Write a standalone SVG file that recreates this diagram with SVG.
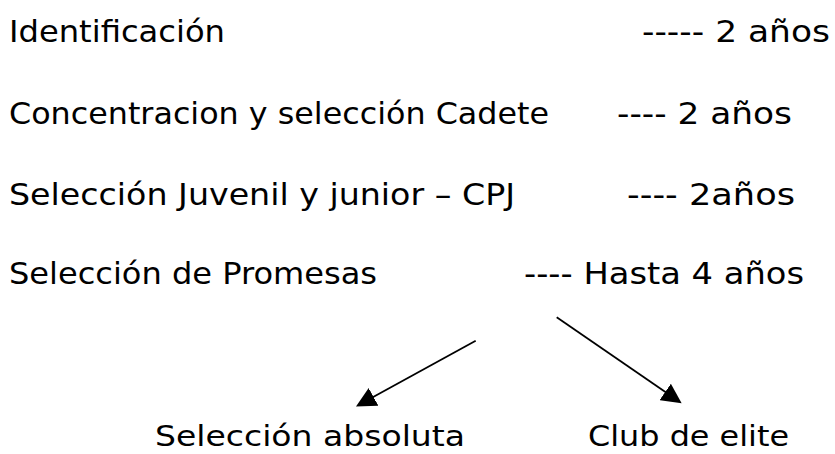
<svg xmlns="http://www.w3.org/2000/svg" width="835" height="454" viewBox="0 0 835 454">
  <style>
    text { font-family: "DejaVu Sans", "Verdana", sans-serif; font-size: 31px; fill: #000; }
    .low { font-size: 29px; }
    .conn { stroke: #000; stroke-width: 1.8; fill: none; }
  </style>
  <defs>
    <marker id="arrow" markerUnits="userSpaceOnUse" markerWidth="20" markerHeight="20" refX="17" refY="10" orient="auto">
      <path d="M0,0 L20,10 L0,20 Z" fill="#000"/>
    </marker>
  </defs>
  <rect width="835" height="454" fill="#fff"/>

  <g id="identificacion">
    <text x="9" y="42" textLength="216" lengthAdjust="spacingAndGlyphs">Identificación</text>
    <text x="642" y="42" textLength="188" lengthAdjust="spacingAndGlyphs">----- 2 años</text>
  </g>
  <g id="cadete">
    <text x="9" y="124" textLength="540" lengthAdjust="spacingAndGlyphs">Concentracion y selección Cadete</text>
    <text x="617" y="124" textLength="175" lengthAdjust="spacingAndGlyphs">---- 2 años</text>
  </g>
  <g id="juvenil">
    <text x="9" y="205" textLength="506" lengthAdjust="spacingAndGlyphs">Selección Juvenil y junior – CPJ</text>
    <text x="627" y="205" textLength="168" lengthAdjust="spacingAndGlyphs">---- 2años</text>
  </g>
  <g id="promesas">
    <text x="9" y="284" textLength="368" lengthAdjust="spacingAndGlyphs">Selección de Promesas</text>
    <text x="524" y="284" textLength="280" lengthAdjust="spacingAndGlyphs">---- Hasta 4 años</text>
  </g>
  <g id="absoluta">
    <text class="low" x="155" y="446" textLength="310" lengthAdjust="spacingAndGlyphs">Selección absoluta</text>
  </g>
  <g id="club">
    <text class="low" x="588" y="446" textLength="201" lengthAdjust="spacingAndGlyphs">Club de elite</text>
  </g>

  <g id="connectors">
    <line class="conn" x1="475.7" y1="340.7" x2="358.6" y2="405.05" marker-end="url(#arrow)"/>
    <line class="conn" x1="556.7" y1="317.3" x2="679.2" y2="401.6" marker-end="url(#arrow)"/>
  </g>
</svg>
